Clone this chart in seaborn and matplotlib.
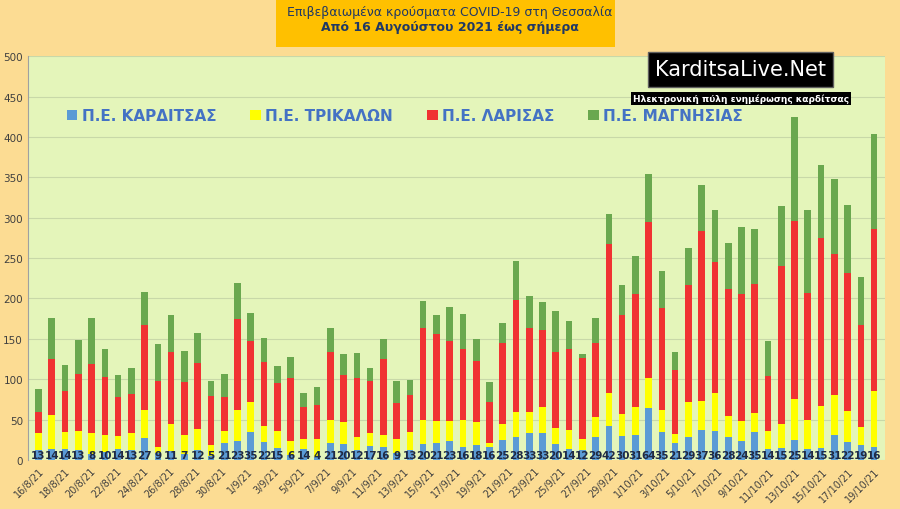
import numpy as np
import pandas as pd
import matplotlib
matplotlib.use("Agg")
import matplotlib.pyplot as plt
import seaborn as sns

karditsa = [13,14,14,13,8,10,14,13,27,9,11,7,12,5,21,23,35,22,15,6,14,4,21,20,12,17,16,9,13,20,
            21,23,16,18,16,25,28,33,33,20,14,12,29,42,30,31,64,35,21,29,37,36,28,24,35,14,15,25,14,15,
            31,22,19,16]
trikala = [20,42,21,23,25,21,16,20,35,7,33,24,26,13,15,39,37,20,21,17,12,22,28,27,16,17,15,17,22,30,
           27,25,33,29,5,19,31,26,33,20,23,14,24,41,27,35,38,27,11,43,36,47,26,24,23,22,30,50,36,52,
           50,39,22,70]
larisa = [27,69,50,70,86,72,48,49,105,82,90,66,82,61,42,113,75,79,59,79,40,42,85,58,73,64,94,45,45,113,
          108,99,89,76,51,101,139,104,95,94,101,100,92,185,122,139,193,126,80,145,210,162,158,157,160,68,195,221,157,208,
          174,170,126,200]
magnisia = [28,51,33,42,57,35,27,32,41,46,45,38,37,19,28,44,35,30,22,26,17,22,30,26,31,16,25,27,19,34,
            23,43,43,27,25,25,49,40,35,51,34,5,31,37,38,47,59,46,22,45,58,64,57,83,68,43,75,129,102,90,
            93,85,59,118]
tick_labels = ["16/8/21","18/8/21","20/8/21","22/8/21","24/8/21","26/8/21","28/8/21","30/8/21",
               "1/9/21","3/9/21","5/9/21","7/9/21","9/9/21","11/9/21","13/9/21","15/9/21","17/9/21",
               "19/9/21","21/9/21","23/9/21","25/9/21","27/9/21","29/9/21","1/10/21","3/10/21",
               "5/10/21","7/10/21","9/10/21","11/10/21","13/10/21","15/10/21","17/10/21","19/10/21"]
names = ["Π.Ε. ΚΑΡΔΙΤΣΑΣ", "Π.Ε. ΤΡΙΚΑΛΩΝ", "Π.Ε. ΛΑΡΙΣΑΣ", "Π.Ε. ΜΑΓΝΗΣΙΑΣ"]
colors = ["#5B9BD5", "#FFFF00", "#F03232", "#6AA84F"]

n = len(karditsa)
df = pd.DataFrame({"day": np.arange(n), "k": karditsa, "t": trikala, "l": larisa, "m": magnisia})

fig = plt.figure(figsize=(9, 5.1), dpi=100, facecolor="#FCDC93")
ax = fig.add_axes([0.031, 0.096, 0.952, 0.792])
ax.set_facecolor("#E4F5BA")

bottom = np.zeros(n)
for col, name, c in zip(["k", "t", "l", "m"], names, colors):
    sns.barplot(data=df, x="day", y=col, color=c, bottom=bottom, width=0.5,
                ax=ax, label=name, native_scale=True, linewidth=0, saturation=1)
    bottom = bottom + df[col].values

for i, v in enumerate(karditsa):
    ax.text(i, 0, str(v), ha="center", va="bottom", fontsize=7.5, fontweight="bold", color="#1F2A44")

ax.set_xlim(-0.8, n - 0.2)
ax.set_ylim(0, 500)
ax.set_yticks(range(0, 501, 50))
ax.yaxis.grid(True, color="#C8D8A8", linewidth=0.8)
ax.set_axisbelow(True)
ticks = np.linspace(0, n - 1, len(tick_labels))
ax.set_xticks(ticks)
ax.set_xticklabels(tick_labels, rotation=45, ha="right", rotation_mode="anchor", fontsize=7, color="#404040")
ax.tick_params(axis="y", labelsize=7.5, colors="#404040", length=0)
ax.tick_params(axis="x", length=0, pad=4)
ax.set_xlabel("")
ax.set_ylabel("")
for s in ["top", "right", "bottom"]:
    ax.spines[s].set_visible(False)
ax.spines["left"].set_color("#A0A0A0")

leg = ax.legend(loc="upper center", bbox_to_anchor=(0.44, 0.905), ncol=4, frameon=False,
                fontsize=11, handlelength=0.7, handleheight=0.7, columnspacing=2.2, handletextpad=0.3)
for t in leg.get_texts():
    t.set_color("#4472C4")
    t.set_fontweight("bold")

fig.text(0.5, 0.976, "Επιβεβαιωμένα κρούσματα COVID-19 στη Θεσσαλία", ha="center", va="center",
         fontsize=9, color="#203864")
fig.text(0.5, 0.947, "Από 16 Αυγούστου 2021 έως σήμερα", ha="center", va="center",
         fontsize=9, fontweight="bold", color="#203864")
fig.patches.append(plt.Rectangle((0.307, 0.905), 0.376, 0.095, transform=fig.transFigure,
                                 facecolor="#FFC000", edgecolor="none", zorder=0))
fig.text(0.823, 0.862, "KarditsaLive.Net", ha="center", va="center", fontsize=15, color="white",
         bbox=dict(facecolor="black", edgecolor="#606060", boxstyle="square,pad=0.35"))
fig.text(0.823, 0.805, "Ηλεκτρονική πύλη ενημέρωσης καρδίτσας", ha="center", va="center",
         fontsize=6.5, color="white", fontweight="bold",
         bbox=dict(facecolor="black", edgecolor="none", boxstyle="square,pad=0.2"))

fig.savefig("out.png", dpi=100, facecolor=fig.get_facecolor())
